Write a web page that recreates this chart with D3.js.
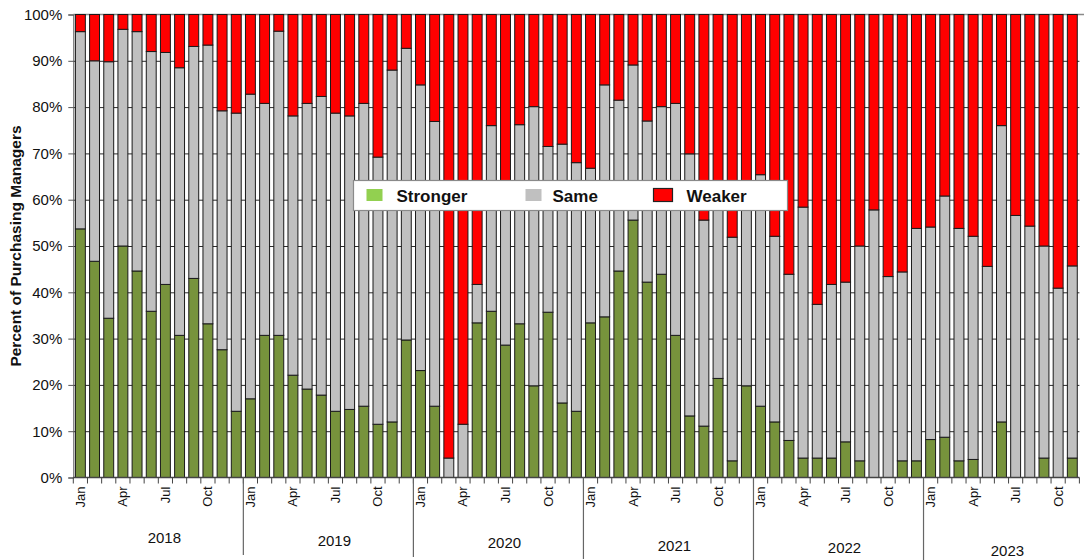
<!DOCTYPE html>
<html><head><meta charset="utf-8">
<script src="https://cdn.jsdelivr.net/npm/d3@7"></script>
<style>
body{margin:0;background:#fff}
svg{display:block}
text{font-family:"Liberation Sans",Arial,sans-serif;fill:#111}
</style>
</head><body>
<svg id="c" width="1084" height="560"></svg>
<script>
// ---------------- data ----------------
const years = ["2018","2019","2020","2021","2022","2023"];
const monthNames = ["Jan","Feb","Mar","Apr","May","Jun","Jul","Aug","Sep","Oct","Nov","Dec"];
const labeledMonths = ["Jan","Apr","Jul","Oct"];
const yTicks = [0,10,20,30,40,50,60,70,80,90,100];
const seriesNames = ["Stronger","Same","Weaker"];

// Jan 2018 .. Nov 2023 (percent of purchasing managers)
const stronger = [
  53.7,46.7,34.4,50.0,44.6,35.9,41.7,30.7,43.0,33.2,27.6,14.3,
  17.0,30.7,30.7,22.1,19.1,17.8,14.3,14.7,15.4,11.5,12.0,29.7,
  23.1,15.4,0,0,33.4,35.9,28.6,33.2,19.8,35.7,16.1,14.3,
  33.4,34.7,44.6,55.6,42.2,43.9,30.7,13.3,11.1,21.4,3.6,19.8,
  15.4,12.0,8.0,4.2,4.2,4.2,7.7,3.6,0,0,3.6,3.6,
  8.2,8.7,3.6,3.9,0,12.0,0,0,4.2,0,4.2
];
const same = [
  42.6,43.3,55.4,46.8,51.7,56.1,50.1,57.8,50.1,60.2,51.6,64.4,
  65.8,50.1,65.7,56.0,61.7,64.5,64.4,63.4,65.4,57.7,76.0,63.0,
  61.7,61.5,4.2,11.5,8.3,40.1,33.4,43.0,60.3,35.8,55.9,53.7,
  33.4,50.1,36.9,33.5,34.8,36.2,50.1,56.6,44.5,38.6,48.3,42.2,
  50.0,40.1,35.9,54.2,33.2,37.5,34.5,46.4,57.8,43.4,40.8,50.2,
  45.9,52.1,50.2,48.2,45.6,64.0,56.6,54.3,45.8,40.9,41.5
];
const weaker = [
  3.7,10.0,10.2,3.2,3.7,8.0,8.2,11.5,6.9,6.6,20.8,21.3,
  17.2,19.2,3.6,21.9,19.2,17.7,21.3,21.9,19.2,30.8,12.0,7.3,
  15.2,23.1,95.8,88.5,58.3,24.0,38.0,23.8,19.9,28.5,28.0,32.0,
  33.2,15.2,18.5,10.9,23.0,19.9,19.2,30.1,44.4,40.0,48.1,38.0,
  34.6,47.9,56.1,41.6,62.6,58.3,57.8,50.0,42.2,56.6,55.6,46.2,
  45.9,39.2,46.2,47.9,54.4,24.0,43.4,45.7,50.0,59.1,54.3
];

const categories = years.flatMap(yr => monthNames.map(m => m + " " + yr)).slice(0, stronger.length);
const table = categories.map((c, i) => ({cat: c, month: c.split(" ")[0], year: c.split(" ")[1],
  Stronger: stronger[i], Same: same[i], Weaker: weaker[i]}));

// ---------------- layout ----------------
const L = 73.3, R = 1079.4, T = 14.5, B = 477.5;
const colors = {Stronger: "#77933C", Same: "#C0C0C0", Weaker: "#FF0000"};
const legendColors = {Stronger: "#92D050", Same: "#C0C0C0", Weaker: "#FF0000"};

const svg = d3.select("#c");
const x = d3.scaleBand().domain(categories).range([L, R]).paddingInner(0.3).paddingOuter(0.15);
const y = d3.scaleLinear().domain([0, 100]).range([B, T]);
const step = x.step();

// gridlines (behind bars)
svg.append("g").attr("transform", `translate(${L},0)`)
  .call(d3.axisLeft(y).tickValues(yTicks.filter(v => v > 0 && v < 100)).tickSize(-(R - L)).tickFormat(""))
  .call(g => g.select(".domain").remove())
  .call(g => g.selectAll("line").attr("stroke", "#2b2b2b").attr("stroke-width", 1));

// top line
svg.append("line").attr("x1", L).attr("x2", 1084).attr("y1", y(100)).attr("y2", y(100))
  .attr("stroke", "#8a8a8a").attr("stroke-width", 1.5);

// stacked bars
const stacked = d3.stack().keys(seriesNames)(table);
svg.append("g").selectAll("g").data(stacked).join("g")
  .attr("fill", s => colors[s.key])
  .selectAll("rect").data(s => s.filter(d => d[1] - d[0] > 0)).join("rect")
  .attr("x", d => x(d.data.cat))
  .attr("width", x.bandwidth())
  .attr("y", d => y(d[1]))
  .attr("height", d => y(d[0]) - y(d[1]))
  .attr("stroke", "#1a1a1a").attr("stroke-width", 1);

// y axis
svg.append("g").attr("transform", `translate(${L},0)`)
  .call(d3.axisLeft(y).tickValues(yTicks).tickFormat(d => d + "%").tickSize(5).tickPadding(6))
  .call(g => g.select(".domain").attr("stroke", "#555"))
  .call(g => g.selectAll("line").attr("stroke", "#555"))
  .call(g => g.selectAll("text").attr("font-size", 15).attr("fill", "#111")
    .attr("font-family", '"Liberation Sans",Arial,sans-serif'));

svg.append("text")
  .attr("transform", `translate(21,${(T + B) / 2}) rotate(-90)`)
  .attr("text-anchor", "middle").attr("font-size", 15.5).attr("font-weight", "bold")
  .text("Percent of Purchasing Managers");

// x axis: baseline, month ticks, labels
svg.append("line").attr("x1", L).attr("x2", R).attr("y1", B).attr("y2", B)
  .attr("stroke", "#444").attr("stroke-width", 1.5);

const gx = svg.append("g");
gx.selectAll("line.tick").data(d3.range(categories.length + 1)).join("line")
  .attr("x1", i => L + i * step).attr("x2", i => L + i * step)
  .attr("y1", B).attr("y2", B + 6).attr("stroke", "#444");

gx.selectAll("text.month").data(table.filter(d => labeledMonths.includes(d.month))).join("text")
  .attr("transform", d => `translate(${x(d.cat) + x.bandwidth() / 2 + 4.5},${B + 9}) rotate(-90)`)
  .attr("text-anchor", "end").attr("font-size", 13).text(d => d.month);

// year groups
years.forEach((yr, i) => {
  const idx = table.map((d, k) => d.year === yr ? k : -1).filter(k => k >= 0);
  const x0 = L + idx[0] * step, x1 = L + (idx[idx.length - 1] + 1) * step;
  if (i > 0) {
    gx.append("line").attr("x1", x0).attr("x2", x0).attr("y1", B).attr("y2", 553 + i * 2)
      .attr("stroke", "#666").attr("stroke-width", 1.2);
  }
  gx.append("text").attr("x", (x0 + x1) / 2 + 6).attr("y", 543 + i * 2.5)
    .attr("text-anchor", "middle").attr("font-size", 15).text(yr);
});

// legend
const lg = svg.append("g");
lg.append("rect").attr("x", 353.5).attr("y", 180.5).attr("width", 434).attr("height", 30)
  .attr("fill", "#fff").attr("stroke", "#8a8a8a").attr("stroke-width", 1.2);
const legendPos = [{sx: 366.5, tx: 396.5}, {sx: 525.5, tx: 552.5}, {sx: 653.5, tx: 686.5}];
seriesNames.forEach((k, i) => {
  const p = legendPos[i];
  lg.append("rect").attr("x", p.sx).attr("y", i === 2 ? 188.5 : 189).attr("width", i === 2 ? 19 : 16)
    .attr("height", i === 2 ? 13 : 12).attr("fill", legendColors[k])
    .attr("stroke", i === 2 ? "#222" : "none").attr("stroke-width", 1.2);
  lg.append("text").attr("x", p.tx).attr("y", 201.5).attr("font-size", 17).attr("font-weight", "bold").text(k);
});
</script>
</body></html>
